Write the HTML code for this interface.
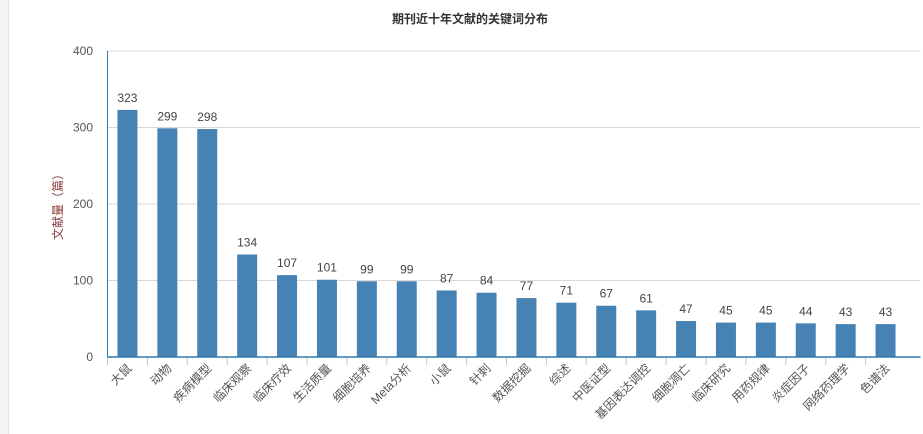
<!DOCTYPE html>
<html><head><meta charset="utf-8"><style>
body{margin:0;width:923px;height:434px;background:#fff;overflow:hidden;font-family:"Liberation Sans","Noto Sans CJK SC",sans-serif}
#strip{position:absolute;left:0;top:0;width:8px;height:434px;background:#f3f3f3;border-right:1px solid #e6e6e6}
</style></head><body>
<div id="strip"></div>
<svg id="chart" width="923" height="434" style="position:absolute;left:0;top:0">
<text x="470" y="23" text-anchor="middle" font-size="12" font-weight="bold" fill="#333">期刊近十年文献的关键词分布</text>
<text transform="translate(62,204) rotate(-90)" text-anchor="middle" font-size="12" fill="#8b3a3a">文献量（篇）</text>
</svg>
<script>
const categories=["大鼠","动物","疾病模型","临床观察","临床疗效","生活质量","细胞培养","Meta分析","小鼠","针刺","数据挖掘","综述","中医证型","基因表达调控","细胞凋亡","临床研究","用药规律","炎症因子","网络药理学","色谱法"];
const values=[323,299,298,134,107,101,99,99,87,84,77,71,67,61,47,45,45,44,43,43];
const yTicks=[0,100,200,300,400];
const svg=document.getElementById('chart');const NS='http://www.w3.org/2000/svg';
const x0=107.5,x1=905.5,y0=357,y1=51,yMax=400;
const band=(x1-x0)/categories.length;
const y=v=>y0-(v/yMax)*(y0-y1);
const xc=i=>x0+band*(i+0.5);
function mk(t,a){const e=document.createElementNS(NS,t);for(const k in a)e.setAttribute(k,a[k]);svg.appendChild(e);return e;}
yTicks.forEach(t=>{
 if(t>0){const g=mk('line',{x1:x0,x2:x1+15,y1:y(t),y2:y(t),stroke:'#d8d8d8','stroke-width':1});
 
 }
 const l=mk('text',{x:93,y:y(t)+4,'text-anchor':'end','font-size':12,fill:'#555'});l.textContent=t;
 
 
});
categories.forEach((c,i)=>{
 const b=mk('rect',{x:xc(i)-10,y:y(values[i]),width:20,height:y0-y(values[i]),fill:'#4682b4'});
 
 
 const v=mk('text',{x:xc(i),y:y(values[i])-8,'text-anchor':'middle','font-size':12,fill:'#444'});v.textContent=values[i];
 
 
 const tk=mk('line',{x1:x0+band*i,x2:x0+band*i,y1:y0,y2:y0+8,stroke:'#b8c8d8'});
 
 
 const t=mk('text',{transform:`translate(${xc(i)+5},${y0+12}) rotate(-45)`,'text-anchor':'end','font-size':12,fill:'#555'});t.textContent=c;
 
 
});
const ax=mk('line',{x1:x0,x2:x0,y1:y1,y2:y0,stroke:'#2e7ab0','stroke-width':1});


const bx=mk('line',{x1:x0,x2:x1+15,y1:y0,y2:y0,stroke:'#2e7ab0','stroke-width':1.5});


</script>
</body></html>
